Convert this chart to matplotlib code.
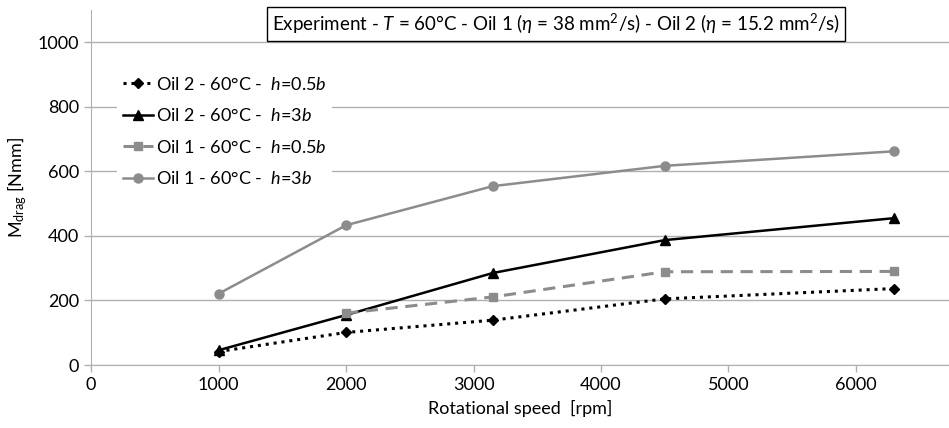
import matplotlib
matplotlib.use("Agg")
import matplotlib.pyplot as plt

plt.rcParams["font.family"] = ["Lato", "DejaVu Sans"]
plt.rcParams["mathtext.fontset"] = "custom"
plt.rcParams["mathtext.it"] = "Lato:italic"
plt.rcParams["mathtext.rm"] = "Lato"

# rotational speed [rpm]
speed = [1000, 2000, 3150, 4500, 6300]
speed_oil1_low = [2000, 3150, 4500, 6300]

# drag torque [Nmm]
oil2_h05 = [42, 101, 139, 205, 237]
oil2_h3 = [46, 155, 285, 387, 455]
oil1_h05 = [161, 211, 289, 290]
oil1_h3 = [221, 433, 554, 617, 662]

labels = [
    r"Oil 2 - 60°C -  $h$=0.5$b$",
    r"Oil 2 - 60°C -  $h$=3$b$",
    r"Oil 1 - 60°C -  $h$=0.5$b$",
    r"Oil 1 - 60°C -  $h$=3$b$",
]

GREY = "#8c8c8c"
AXC = "#b0b0b0"

fig = plt.figure(figsize=(9.49, 4.28), dpi=100)
ax = fig.add_axes([0.096, 0.147, 0.904, 0.83])

ax.plot(speed, oil2_h05, color="black", ls=(0, (1, 1.6)), lw=2.2,
        marker="D", ms=5.5, label=labels[0])
ax.plot(speed, oil2_h3, color="black", ls="-", lw=1.8,
        marker="^", ms=7, label=labels[1])
ax.plot(speed_oil1_low, oil1_h05, color=GREY, ls=(0, (4, 2.5)), lw=2.2,
        marker="s", ms=6, label=labels[2])
ax.plot(speed, oil1_h3, color=GREY, ls="-", lw=1.8,
        marker="o", ms=6.5, label=labels[3])

ax.set_xlim(0, 6730)
ax.set_ylim(0, 1100)
ax.set_xticks(range(0, 7000, 1000))
ax.set_yticks(range(0, 1001, 200))
ax.grid(axis="y", color=AXC, lw=1)
ax.set_axisbelow(True)
for s in ("top", "right"):
    ax.spines[s].set_visible(False)
for s in ("left", "bottom"):
    ax.spines[s].set_color(AXC)
ax.tick_params(axis="both", colors=AXC, labelcolor="black", labelsize=13,
               length=5, width=1)

ax.set_xlabel("Rotational speed  [rpm]", fontsize=13, labelpad=5)
ax.set_ylabel(r"M$_{\mathrm{drag}}$ [Nmm]", fontsize=13, labelpad=6)

leg = ax.legend(loc="upper left", bbox_to_anchor=(0.02, 0.855), fontsize=13,
                frameon=True, handlelength=1.7, handletextpad=0.15,
                labelspacing=0.8, borderpad=0.3)
leg.get_frame().set_edgecolor("none")
leg.get_frame().set_facecolor("white")
leg.get_frame().set_alpha(1)

ax.text(0.542, 0.995,
        r"Experiment - $T$ = 60°C - Oil 1 ($\eta$ = 38 mm$^2$/s) - Oil 2 ($\eta$ = 15.2 mm$^2$/s)",
        transform=ax.transAxes, ha="center", va="top", fontsize=13.5,
        bbox=dict(boxstyle="square,pad=0.25", fc="white", ec="black", lw=1))

fig.savefig("out.png", dpi=100)
